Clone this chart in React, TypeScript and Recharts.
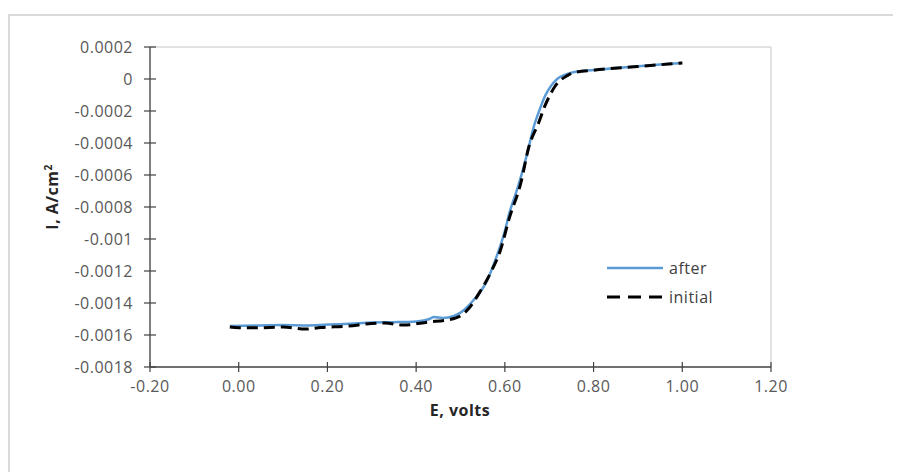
import React from "react";
import { LineChart, Line, XAxis, YAxis, ReferenceLine } from "recharts";

// E (volts) vs I (A/cm2)
const afterE = [-0.02, 0.05, 0.1, 0.15, 0.2, 0.25, 0.3, 0.35, 0.4, 0.43, 0.44, 0.46, 0.485, 0.5, 0.53, 0.56, 0.58, 0.6, 0.61, 0.63, 0.65, 0.665, 0.68, 0.69, 0.7, 0.71, 0.72, 0.735, 0.75, 0.8, 0.85, 0.9, 0.95, 1.0];
const afterI = [-0.001544, -0.00154, -0.001538, -0.00154, -0.001535, -0.00153, -0.001522, -0.00152, -0.001515, -0.0015, -0.001488, -0.001494, -0.001481, -0.00146, -0.00138, -0.00126, -0.00112, -0.00095, -0.00084, -0.00067, -0.00047, -0.0003, -0.00018, -0.00011, -0.00006, -0.000022, 0.000005, 0.000026, 0.00004, 0.000056, 0.000068, 0.00008, 0.00009, 0.0001];

const initialE = [-0.02, 0.0, 0.04, 0.1, 0.15, 0.185, 0.245, 0.3, 0.33, 0.37, 0.43, 0.47, 0.5, 0.52, 0.546, 0.568, 0.59, 0.61, 0.636, 0.654, 0.676, 0.69, 0.7, 0.712, 0.726, 0.74, 0.755, 0.8, 0.9, 1.0];
const initialI = [-0.00155, -0.001555, -0.001555, -0.00155, -0.001563, -0.001553, -0.001545, -0.001528, -0.001525, -0.001538, -0.001518, -0.001506, -0.00148, -0.00143, -0.00132, -0.00121, -0.00107, -0.00087, -0.00065, -0.000425, -0.000275, -0.00017, -0.00011, -0.00005, -0.000006, 0.00002, 0.00004, 0.000055, 0.000078, 0.0001];

const xTicks = [-0.2, 0, 0.2, 0.4, 0.6, 0.8, 1.0, 1.2];
const yTicks = [0.0002, 0, -0.0002, -0.0004, -0.0006, -0.0008, -0.001, -0.0012, -0.0014, -0.0016, -0.0018];

const afterData = afterE.map((e, i) => ({ E: e, I: afterI[i] }));
const initialData = initialE.map((e, i) => ({ E: e, I: initialI[i] }));

const tickFont = { fontSize: 16, fontFamily: "Open Sans", letterSpacing: 0.5 };

const fmtY = (v: number) => parseFloat(v.toFixed(4)).toString();
const fmtX = (v: number) => v.toFixed(2);

const YTick = (props: any) => {
  const { x, y, payload } = props;
  return (
    <g>
      <line x1={x - 6} x2={x + 6} y1={y} y2={y} stroke="#404040" strokeWidth={1.2} />
      <text x={x - 17} y={y} dy="0.35em" textAnchor="end" fill="#595959" {...tickFont}>
        {fmtY(payload.value)}
      </text>
    </g>
  );
};

const XTick = (props: any) => {
  const { x, y, payload } = props;
  return (
    <g>
      <line x1={x} x2={x} y1={y - 5} y2={y + 5} stroke="#404040" strokeWidth={1.2} />
      <text x={x} y={y + 25} textAnchor="middle" fill="#595959" {...tickFont}>
        {fmtX(payload.value)}
      </text>
    </g>
  );
};

export default function App() {
  return (
    <div style={{ position: "relative", width: 893, height: 464, overflow: "hidden", background: "#fff" }}>
      <div
        style={{
          position: "absolute",
          left: 0,
          top: 6,
          width: 1000,
          height: 1000,
          border: "2px solid #d9d9d9",
          boxSizing: "border-box",
        }}
      />
      <div style={{ position: "absolute", left: 0, top: 0 }}>
        <LineChart
          width={893}
          height={464}
          margin={{ top: 39, right: 130, bottom: 75, left: 82 }}
        >
          <ReferenceLine y={0.0002} stroke="#d9d9d9" strokeWidth={1.5} />
          <ReferenceLine x={1.2} stroke="#d9d9d9" strokeWidth={1.5} />
          <XAxis
            type="number"
            dataKey="E"
            domain={[-0.2, 1.2]}
            ticks={xTicks}
            allowDataOverflow
            height={30}
            tickSize={0}
            tickMargin={0}
            tickLine={false}
            tick={<XTick />}
            stroke="#404040"
            strokeWidth={1.5}
          />
          <YAxis
            type="number"
            dataKey="I"
            domain={[-0.0018, 0.0002]}
            ticks={yTicks}
            allowDataOverflow
            width={60}
            tickSize={0}
            tickMargin={0}
            tickLine={false}
            tick={<YTick />}
            stroke="#808080"
            strokeWidth={2}
          />
          <Line
            data={afterData}
            dataKey="I"
            type="monotone"
            stroke="#5b9bd5"
            strokeWidth={2.5}
            dot={false}
            isAnimationActive={false}
          />
          <Line
            data={initialData}
            dataKey="I"
            type="monotone"
            stroke="#000000"
            strokeWidth={3}
            strokeDasharray="11 6"
            dot={false}
            isAnimationActive={false}
          />
        </LineChart>
      </div>
      <div
        style={{
          position: "absolute",
          left: 452,
          top: 402,
          transform: "translate(-50%, -50%)",
          fontFamily: "Open Sans",
          fontWeight: 700,
          fontSize: 16,
          letterSpacing: 0.5,
          color: "#262626",
          whiteSpace: "nowrap",
        }}
      >
        E, volts
      </div>
      <div
        style={{
          position: "absolute",
          left: 44,
          top: 189,
          transform: "translate(-50%, -50%) rotate(-90deg)",
          fontFamily: "Open Sans",
          fontWeight: 700,
          fontSize: 16,
          letterSpacing: 0.5,
          color: "#262626",
          whiteSpace: "nowrap",
        }}
      >
        I, A/cm<sup style={{ fontSize: 10 }}>2</sup>
      </div>
      <svg style={{ position: "absolute", left: 0, top: 0 }} width={893} height={464}>
        <line x1={599} x2={655} y1={260} y2={260} stroke="#5b9bd5" strokeWidth={2.5} />
        <text x={661} y={260} dy="0.35em" fill="#404040" fontSize={16} fontFamily="Open Sans" letterSpacing={0.5}>
          after
        </text>
        <line x1={599} x2={655} y1={289} y2={289} stroke="#000" strokeWidth={3} strokeDasharray="13 8" />
        <text x={661} y={289} dy="0.35em" fill="#404040" fontSize={16} fontFamily="Open Sans" letterSpacing={0.5}>
          initial
        </text>
      </svg>
    </div>
  );
}
